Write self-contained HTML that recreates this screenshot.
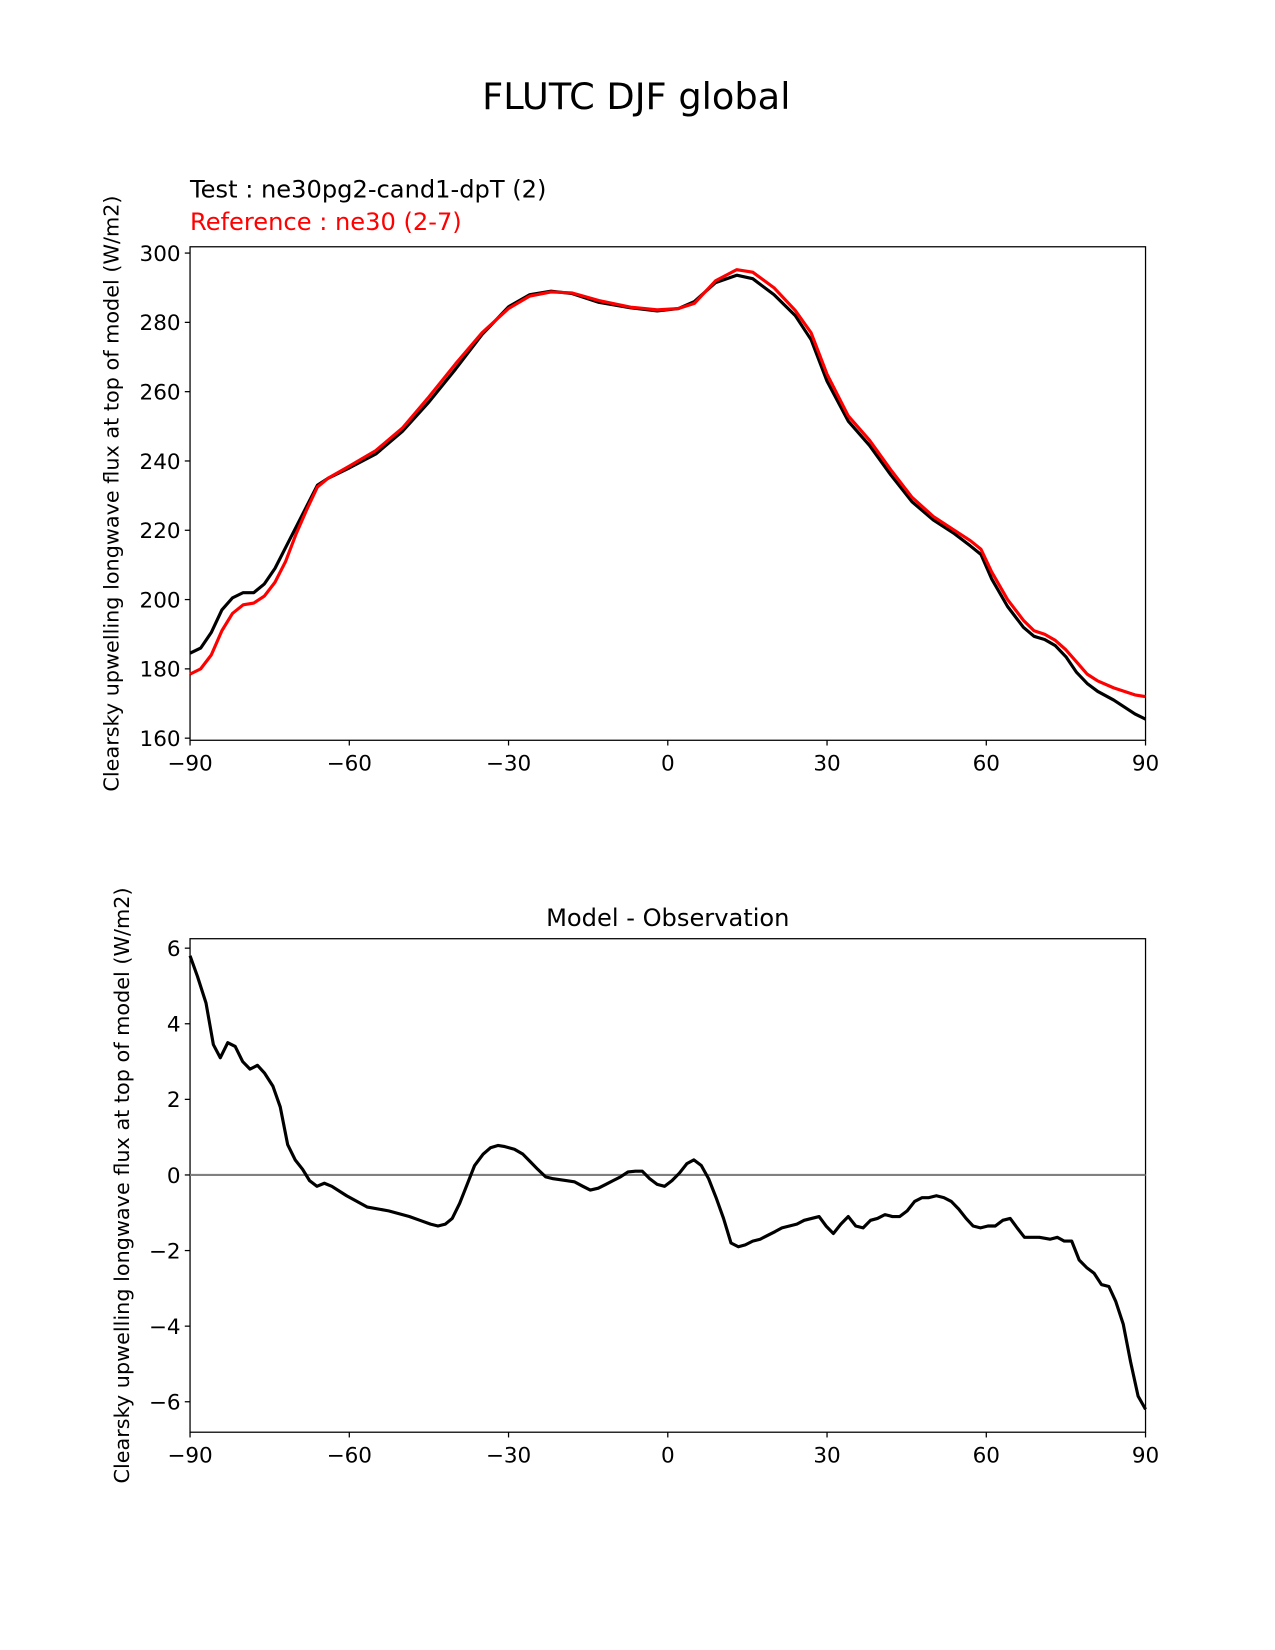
<!DOCTYPE html>
<html><head><meta charset="utf-8"><style>
html,body{margin:0;padding:0;background:#fff;}
svg{display:block;font-family:"DejaVu Sans","Liberation Sans",sans-serif;}
</style></head><body>
<svg id="fig" width="1275" height="1650" viewBox="0 0 1214.3 1571.4" xmlns="http://www.w3.org/2000/svg">
<rect width="1214.3" height="1571.4" fill="#fff"/>
<text x="606" y="104" font-size="35" text-anchor="middle">FLUTC DJF global</text>
<text x="181" y="188" font-size="23">Test : ne30pg2-cand1-dpT (2)</text>
<text x="181" y="219" font-size="23" fill="#ff0000">Reference : ne30 (2-7)</text>
<text x="636" y="882" font-size="23" text-anchor="middle">Model - Observation</text>
<text transform="translate(113,470) rotate(-90)" font-size="19.8" text-anchor="middle">Clearsky upwelling longwave flux at top of model (W/m2)</text>
<text transform="translate(123,1129) rotate(-90)" font-size="19.8" text-anchor="middle">Clearsky upwelling longwave flux at top of model (W/m2)</text>
<g id="top"></g>
<g id="bot"></g>
</svg>
<script>
const latTop=[-90,-88,-86,-84,-82,-80,-78,-76,-74,-72,-70,-68,-66,-64,-60,-55,-50,-45,-40,-35,-30,-26,-22,-18,-13,-7,-2,2,5,9,13,16,20,24,27,30,34,38,42,46,50,54,57,59,61,64,67,69,71,73,75,77,79,81,84,88,90];
const testVals=[184.5,186,190.5,197,200.5,202,202,204.5,209,215,221,227,233,235,238,242,248.5,257,266.5,276.5,284.5,288,289,288.3,285.8,284.2,283.3,284,286,291.5,293.6,292.6,288,282,275,263,251.5,244.5,236,228.2,223,219,215.5,213,206,198,192,189.4,188.5,186.7,183.5,179,175.8,173.5,171,167,165.5];
const refVals=[178.5,180,184,191,196,198.5,199,201,205,211,219,226,232.5,235,238.5,243,249.5,258.5,268,277,284,287.6,288.8,288.5,286.3,284.4,283.6,284,285.5,292,295.2,294.5,290,283.5,277,265,253,246,237.5,229.5,224,220,217,214.5,208,200,194,191,190,188.2,185.5,182,178.5,176.5,174.5,172.5,172];
const latDiff=[-90,-88.6,-87.0,-85.6,-84.3,-82.9,-81.5,-80.1,-78.7,-77.3,-76.0,-74.4,-73.0,-71.6,-70.2,-68.8,-67.5,-66.1,-64.7,-63.3,-60.5,-56.6,-52.6,-48.7,-46.7,-44.7,-43.3,-41.9,-40.6,-39.2,-37.8,-36.4,-34.8,-33.4,-32.0,-30.7,-28.9,-27.3,-25.9,-24.5,-23.0,-21.6,-19.0,-17.6,-16.0,-14.6,-13.1,-11.7,-10.3,-8.9,-7.5,-6.1,-4.8,-3.4,-2.0,-0.6,0.8,2.2,3.6,4.9,6.3,7.7,9.1,10.5,11.9,13.3,14.6,16.0,17.4,18.8,20.2,21.5,22.9,24.3,25.7,27.1,28.5,29.8,31.2,32.6,34.0,35.4,36.8,38.2,39.5,40.9,42.3,43.7,45.1,46.5,47.9,49.2,50.6,52.0,53.4,54.8,56.2,57.5,58.9,60.3,61.7,63.1,64.5,65.8,67.2,70.0,72.0,73.4,74.7,76.1,77.5,78.9,80.3,81.7,83.1,84.4,85.8,87.2,88.6,90];
const diffVals=[5.8,5.25,4.55,3.45,3.1,3.5,3.4,3.0,2.8,2.9,2.7,2.35,1.8,0.8,0.4,0.15,-0.15,-0.3,-0.22,-0.3,-0.55,-0.85,-0.95,-1.1,-1.2,-1.3,-1.35,-1.3,-1.15,-0.75,-0.25,0.25,0.55,0.72,0.78,0.75,0.68,0.55,0.35,0.15,-0.05,-0.1,-0.15,-0.18,-0.3,-0.4,-0.35,-0.25,-0.15,-0.05,0.08,0.1,0.1,-0.1,-0.25,-0.3,-0.15,0.05,0.3,0.4,0.25,-0.1,-0.6,-1.15,-1.8,-1.9,-1.85,-1.75,-1.7,-1.6,-1.5,-1.4,-1.35,-1.3,-1.2,-1.15,-1.1,-1.35,-1.55,-1.3,-1.1,-1.35,-1.4,-1.2,-1.15,-1.05,-1.1,-1.1,-0.95,-0.7,-0.6,-0.6,-0.55,-0.6,-0.7,-0.9,-1.15,-1.35,-1.4,-1.35,-1.35,-1.2,-1.15,-1.4,-1.65,-1.65,-1.7,-1.65,-1.75,-1.75,-2.25,-2.45,-2.6,-2.9,-2.95,-3.35,-3.95,-4.95,-5.85,-6.2];
const xTicks=[-90,-60,-30,0,30,60,90];
const xTickLabels=["\u221290","\u221260","\u221230","0","30","60","90"];
const topYTicks=[160,180,200,220,240,260,280,300];
const botYTicks=[-6,-4,-2,0,2,4,6];
const botYTickLabels=["\u22126","\u22124","\u22122","0","2","4","6"];

const NS="http://www.w3.org/2000/svg";
const L=181,R=1091;
const xs=v=>L+(v+90)*(R-L)/180;
const yTop=v=>703-(v-160)*3.3;
const yBot=v=>1119-v*36;
function mk(tag,attrs,parent){const e=document.createElementNS(NS,tag);for(const k in attrs)e.setAttribute(k,attrs[k]);parent.appendChild(e);return e;}
function axes(g,T,B,ys,yt,ytl,name){
  const f=mk('rect',{x:L,y:T,width:R-L,height:B-T,fill:'none',stroke:'#000','stroke-width':1.2},g);
  
  
  xTicks.forEach((t,i)=>{
    const x=xs(t);
    const tk=mk('line',{x1:x,x2:x,y1:B,y2:B+5,stroke:'#000','stroke-width':1.2},g);
    
    
    const tx=mk('text',{x:x,y:B+29,'font-size':20.5,'text-anchor':'middle'},g);
    tx.textContent=xTickLabels[i];
    
    
  });
  yt.forEach((t,i)=>{
    const y=ys(t);
    const tk=mk('line',{x1:L-5,x2:L,y1:y,y2:y,stroke:'#000','stroke-width':1.2},g);
    
    
    const tx=mk('text',{x:L-9,y:y+7.5,'font-size':20.5,'text-anchor':'end'},g);
    tx.textContent=ytl[i];
    
    
  });
}
function line(g,xv,yv,ys,color,nm){
  const d=xv.map((x,i)=>(i?'L':'M')+xs(x).toFixed(1)+','+ys(yv[i]).toFixed(1)).join('');
  const p=mk('path',{d:d,fill:'none',stroke:color,'stroke-width':3,'stroke-linejoin':'round'},g);
  
  
}
const gt=document.getElementById('top');
axes(gt,235,705,yTop,topYTicks,topYTicks.map(String),'top');
line(gt,latTop,testVals,yTop,'#000','test-line');
line(gt,latTop,refVals,yTop,'#ff0000','reference-line');
const gb=document.getElementById('bot');
axes(gb,894,1364,yBot,botYTicks,botYTickLabels,'bottom');
const z=mk('line',{x1:L,x2:R,y1:yBot(0),y2:yBot(0),stroke:'#808080','stroke-width':2},gb);


line(gb,latDiff,diffVals,yBot,'#000','difference-line');
</script>
</body></html>
